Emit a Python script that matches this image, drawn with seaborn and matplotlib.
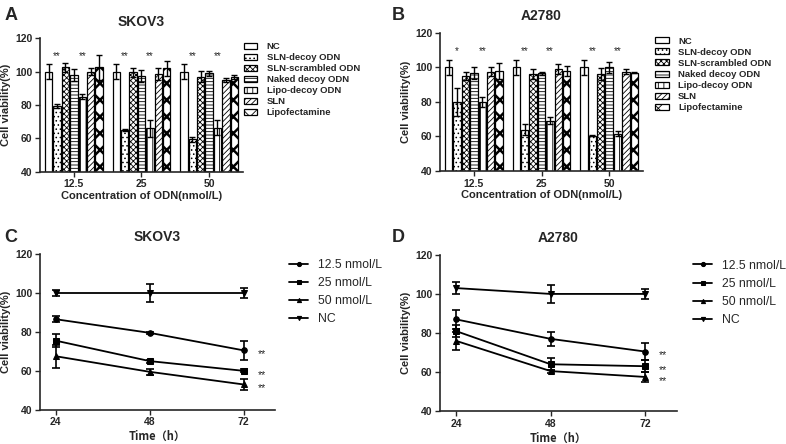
import numpy as np
import pandas as pd
import matplotlib
matplotlib.use('Agg')
import matplotlib.pyplot as plt
import seaborn as sns


GROUPS = ['NC', 'SLN-decoy ODN', 'SLN-scrambled ODN', 'Naked decoy ODN',
          'Lipo-decoy ODN', 'SLN', 'Lipofectamine']
CONCS = ['12.5', '25', '50']
HATCHES = ['', '....', 'xxxxxx', '-----', '|||', '//////', 'xx']

# rows = concentration, cols = group
skov3_bar = [[100, 79.5, 102.5, 98, 85, 100, 102.5],
             [100, 65, 99.5, 97.5, 66, 98.5, 102],
             [100, 59.5, 97, 99, 66.5, 95, 97]]
skov3_bar_err = [[4.5, 1, 2.5, 3.5, 1.5, 2, 7.5],
                 [4.5, 0.8, 2.5, 3.5, 5, 3.5, 4.5],
                 [4.5, 1.5, 3.5, 1.5, 4.5, 1, 1.2]]
a2780_bar = [[100, 80, 95, 97, 80, 97.5, 98],
             [100, 64, 96, 96.5, 69, 99, 98],
             [100, 60.5, 96, 100, 61.5, 97.5, 97]]
a2780_bar_err = [[4.5, 8, 2.5, 3.5, 3, 2.5, 4.5],
                 [4.5, 3, 3, 1, 2, 3, 3],
                 [4.5, 0.5, 3.5, 3, 1.5, 1.5, 0.5]]
skov3_stars = ['**', '**', '**', '**', '**', '**']
a2780_stars = ['*', '**', '**', '**', '**', '**']

TIMES = [24, 48, 72]
SERIES = ['12.5 nmol/L', '25 nmol/L', '50 nmol/L', 'NC']
MARKERS = ['o', 's', '^', 'v']
skov3_line = [[86.5, 79.5, 70.5], [75.5, 65, 60], [67.5, 59.5, 53], [100, 100, 100]]
skov3_line_err = [[1.5, 0.5, 5], [3.5, 0.8, 0.8], [6, 1.5, 3], [1.5, 4.5, 2.5]]
a2780_line = [[87, 77, 70.5], [81, 64, 63], [76, 60.5, 57.5], [103, 100, 100]]
a2780_line_err = [[5, 3.5, 4.5], [3, 3, 3], [4.5, 0.8, 2.5], [3, 4.5, 2.5]]

sns.set_style('ticks')
plt.rcParams['font.family'] = ['Liberation Sans', 'DejaVu Sans']
plt.rcParams['hatch.linewidth'] = 0.6
plt.rcParams['axes.linewidth'] = 1.2


def style_axis(ax, title):
    ax.set_ylim(40, 120)
    ax.set_yticks([40, 60, 80, 100, 120])
    ax.set_ylabel('Cell viability(%)', fontsize=8, fontweight='bold', labelpad=3)
    ax.set_title(title, fontsize=10, fontweight='bold', pad=9)
    ax.tick_params(labelsize=7.5, width=1, length=3.5, pad=2)
    for lab in ax.get_xticklabels() + ax.get_yticklabels():
        lab.set_fontweight('bold')
    sns.despine(ax=ax)


def bar_panel(ax, vals, errs, stars, title, leg_x):
    df = pd.DataFrame([(c, g, vals[i][j]) for i, c in enumerate(CONCS)
                       for j, g in enumerate(GROUPS)],
                      columns=['conc', 'group', 'value'])
    sns.barplot(data=df, x='conc', y='value', hue='group', order=CONCS,
                hue_order=GROUPS, palette=['white'] * 7, edgecolor='black',
                linewidth=0.9, errorbar=None, width=0.87, gap=0.12, ax=ax,
                legend=True)
    bar_conts = list(ax.containers)
    for j, cont in enumerate(bar_conts):
        for i, bar in enumerate(cont):
            bar.set_hatch(HATCHES[j])
            if j == 6 and hasattr(bar, 'set_hatch_linewidth'):
                bar.set_hatch_linewidth(1.8)
            cx = bar.get_x() + bar.get_width() / 2
            ax.errorbar(cx, vals[i][j], yerr=errs[i][j], color='black',
                        capsize=2.5, lw=1, capthick=1)
            if j in (1, 4):
                ax.text(cx, 106.5, stars[i * 2 + (0 if j == 1 else 1)],
                        ha='center', va='bottom', fontsize=7)
    ax.set_xlim(-0.5, 2.5)
    ax.set_xlabel('Concentration of ODN(nmol/L)', fontsize=8, fontweight='bold', labelpad=1)
    style_axis(ax, title)
    handles, labels = ax.get_legend_handles_labels()
    for h, hatch in zip(handles, HATCHES):
        h.set_hatch(hatch)
        h.set_facecolor('white')
        if hatch == 'xx' and hasattr(h, 'set_hatch_linewidth'):
            h.set_hatch_linewidth(1.8)
    ax.legend(handles, labels, loc='upper left', bbox_to_anchor=(leg_x, 1.0),
              frameon=False, prop={'size': 6.8, 'weight': 'bold'},
              handlelength=1.45, handleheight=0.6, labelspacing=0.22,
              borderaxespad=0, handletextpad=1.0)


def line_panel(ax, vals, errs, title, leg_x):
    df = pd.DataFrame([(t, s, vals[i][k]) for i, s in enumerate(SERIES)
                       for k, t in enumerate(TIMES)],
                      columns=['time', 'series', 'value'])
    sns.lineplot(data=df, x='time', y='value', hue='series', style='series',
                 hue_order=SERIES, style_order=SERIES,
                 palette=['black'] * 4, markers=MARKERS, dashes=False,
                 markersize=4, linewidth=1.3, markeredgecolor='black', ax=ax)
    for i in range(len(SERIES)):
        ax.errorbar(TIMES, vals[i], yerr=errs[i], fmt='none', ecolor='black',
                    capsize=3, lw=1.2, capthick=1.2)
    for i in range(3):
        ax.text(75.5, vals[i][2] - 2, '**', ha='left', va='center', fontsize=7.5)
    ax.set_xlim(20, 80)
    ax.set_xticks(TIMES)
    ax.set_xlabel('Time\uff08h\uff09', fontsize=8, fontweight='bold',
                  labelpad=2, family=['Noto Sans CJK SC', 'Liberation Sans'])
    style_axis(ax, title)
    leg = ax.legend(loc='upper left', bbox_to_anchor=(leg_x, 1.0), frameon=False,
                    fontsize=8.8, handlelength=1.5, labelspacing=0.5,
                    borderaxespad=0, handletextpad=0.8)
    for line in leg.get_lines():
        line.set_markersize(3)


fig = plt.figure(figsize=(7.86, 4.44), dpi=100)
axA = fig.add_axes([0.051, 0.613, 0.258, 0.301])
axB = fig.add_axes([0.560, 0.615, 0.258, 0.311])
axC = fig.add_axes([0.051, 0.077, 0.299, 0.351])
axD = fig.add_axes([0.560, 0.074, 0.301, 0.352])

bar_panel(axA, skov3_bar, skov3_bar_err, skov3_stars, 'SKOV3', 0.985)
bar_panel(axB, a2780_bar, a2780_bar_err, a2780_stars, 'A2780', 1.04)
line_panel(axC, skov3_line, skov3_line_err, 'SKOV3', 1.04)
line_panel(axD, a2780_line, a2780_line_err, 'A2780', 1.05)

for lbl, x, y in [('A', 0.006, 0.985), ('B', 0.498, 0.985),
                  ('C', 0.006, 0.485), ('D', 0.498, 0.485)]:
    fig.text(x, y, lbl, fontsize=13, fontweight='bold', va='top')

fig.savefig('out.png', dpi=100)
